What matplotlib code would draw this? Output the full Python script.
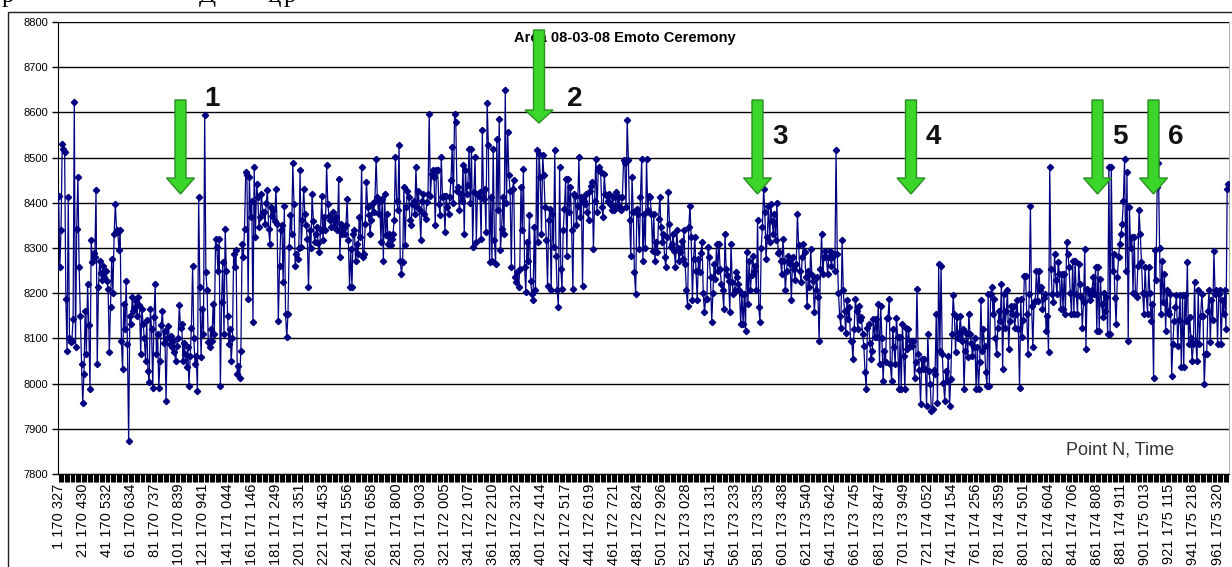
import numpy as np
import matplotlib
matplotlib.use('Agg')
import matplotlib.pyplot as plt
from matplotlib.patches import Polygon, Rectangle

plt.rcParams['font.family'] = ['Liberation Sans', 'DejaVu Sans']

# readings, point by point (values)
seg_a = [8416, 8257, 8339, 8531, 8520, 8512, 8187, 8073, 8413, 8100,
         8091, 8095, 8143, 8623, 8080, 8342, 8457, 8257, 8150, 8043,
         7958, 8021, 8161, 8065, 8220, 8130, 7988, 8317, 8269, 8290,
         8280, 8428, 8043, 8213, 8272, 8245, 8230, 8261, 8235, 8250,
         8228, 8210, 8069, 8169, 8276, 8200, 8332, 8398, 8340, 8335,
         8295, 8340, 8095, 8032, 8176, 8120, 8228, 8088, 7873, 8150,
         8132, 8191, 8160, 8169, 8183, 8150, 8191, 8175, 8065, 8165,
         8132, 8100, 8050, 8140, 8028, 8003, 8165, 8120, 7991, 8147,
         8220, 8065, 8110, 7991, 8050, 8130, 8161, 8090, 8117, 7962,
         8100, 8128, 8088, 8105, 8080, 8095, 8070, 8050, 8084, 8100,
         8173, 8124, 8132, 8050, 8090, 8065, 8036, 8080, 7995, 8060,
         8124, 8261, 8100, 8043, 8060, 7984, 8413, 8213, 8058, 8165,
         8110, 8594, 8246, 8206, 8091, 8080, 8120, 8095, 8176, 8110,
         8320, 8302, 8250, 8320, 7995, 8180, 8269, 8110, 8342, 8250,
         8150, 8088, 8120, 8050, 8100, 8287, 8257, 8295, 8021, 8040,
         8013, 8073, 8309, 8280, 8342, 8468, 8461, 8187, 8457, 8368,
         8405, 8136, 8479, 8324, 8442, 8413, 8346, 8368, 8420, 8380,
         8379, 8354, 8400, 8428, 8342, 8309, 8390, 8370, 8385, 8360,
         8431, 8354, 8139, 8261, 8339, 8350, 8224, 8394, 8154, 8102,
         8154, 8302, 8372, 8330, 8487, 8398, 8261, 8287, 8276, 8300,
         8472, 8302, 8361, 8431, 8376, 8350, 8320, 8213, 8339, 8300,
         8420, 8360, 8313, 8330, 8346, 8310, 8291, 8340, 8416, 8317,
         8368, 8340, 8483, 8398, 8370, 8361, 8346, 8380, 8346, 8360,
         8368, 8340, 8453, 8280, 8354, 8330, 8345, 8331, 8350, 8409,
         8317, 8213]

seg_b = [8298, 8213, 8331, 8339, 8272, 8309, 8287, 8368, 8324, 8479,
         8280, 8287, 8353, 8446, 8390, 8372, 8331, 8361, 8398, 8380,
         8405, 8498, 8413, 8376, 8405, 8313, 8409, 8272, 8420, 8328,
         8376, 8309, 8331, 8306, 8320, 8331, 8361, 8501, 8405, 8383,
         8527, 8272, 8243, 8269, 8435, 8306, 8390, 8427, 8413, 8361,
         8350, 8398, 8405, 8376, 8479, 8390, 8427, 8383, 8317, 8405,
         8420, 8376, 8365, 8402, 8420, 8597, 8416, 8464, 8472, 8457,
         8350, 8472, 8472, 8398, 8372, 8501, 8413, 8416, 8335, 8416,
         8390, 8376, 8413, 8450, 8523, 8400, 8597, 8579, 8427, 8435,
         8383, 8420, 8405, 8483, 8331, 8472, 8420, 8440, 8520, 8400,
         8520, 8302, 8424, 8501, 8313, 8420, 8416, 8424, 8320, 8560,
         8409, 8431, 8335, 8620, 8527, 8268, 8413, 8272, 8520, 8317,
         8265, 8542, 8383, 8586, 8295, 8342, 8413, 8331, 8649, 8400,
         8557, 8461, 8427, 8257, 8431, 8450, 8235, 8224, 8246, 8213,
         8253, 8435, 8339, 8475, 8257, 8202, 8313, 8272, 8372, 8228,
         8198, 8184, 8346, 8206, 8516, 8313, 8509, 8457, 8331, 8505,
         8461, 8390, 8317, 8217, 8361, 8387, 8206, 8376, 8302, 8516,
         8283, 8206, 8169, 8479, 8254, 8209, 8339, 8387, 8453, 8283,
         8453, 8379, 8435, 8339, 8209, 8420, 8416, 8350, 8394, 8501,
         8368, 8413, 8217, 8405, 8398, 8420, 8380, 8361, 8427, 8438,
         8446, 8298, 8405, 8498, 8379, 8472, 8479, 8468, 8390, 8369,
         8464, 8420, 8416, 8405, 8420, 8398, 8383, 8413, 8383, 8390,
         8424, 8398, 8413, 8390, 8383, 8413, 8494, 8487, 8390, 8583,
         8494, 8361, 8283, 8457, 8379, 8246, 8198, 8387, 8376, 8298,
         8413, 8498, 8272, 8376, 8300]

seg_c = [8498, 8383, 8416, 8413, 8376, 8294, 8376, 8272, 8313, 8291,
         8365, 8413, 8346, 8313, 8331, 8280, 8257, 8324, 8424, 8354,
         8302, 8309, 8330, 8294, 8257, 8339, 8300, 8272, 8291, 8316,
         8276, 8339, 8265, 8206, 8172, 8346, 8394, 8324, 8184, 8276,
         8324, 8250, 8184, 8276, 8246, 8290, 8313, 8200, 8158, 8188,
         8187, 8302, 8280, 8235, 8136, 8200, 8265, 8232, 8309, 8250,
         8309, 8254, 8220, 8206, 8165, 8331, 8254, 8240, 8228, 8158,
         8309, 8224, 8198, 8206, 8246, 8235, 8220, 8206, 8132, 8198,
         8132, 8198, 8117, 8291, 8176, 8272, 8206, 8240, 8283, 8250,
         8261, 8206, 8361, 8169, 8136, 8300, 8346, 8431, 8380, 8276,
         8324, 8394, 8313, 8398, 8360, 8331, 8376, 8317, 8400, 8290,
         8291, 8272, 8243, 8320, 8272, 8206, 8250, 8283, 8272, 8265,
         8184, 8280, 8254, 8230, 8265, 8376, 8306, 8250, 8224, 8280,
         8309, 8291, 8235, 8172, 8250, 8213, 8298, 8240, 8228, 8158,
         8206, 8235, 8191, 8095, 8254, 8331, 8243, 8280, 8294, 8280,
         8243, 8280, 8294, 8260, 8280, 8287, 8250, 8516, 8287, 8200,
         8150, 8124, 8317, 8206, 8160, 8113, 8184, 8143, 8169, 8095,
         8095, 8054, 8120, 8187, 8161, 8121, 8172, 8140, 8147, 8110,
         8084, 8025, 7988, 8124, 8132, 8090, 8054, 8073, 8143, 8102,
         8143, 8102, 8176, 8043, 8172, 8100, 8006, 8073, 8047, 8146,
         8146, 8187, 8043, 8006, 8121, 8080, 8043, 8146, 8102, 7988,
         8102, 7988, 8132, 8060, 7988, 8124, 8076, 8121, 8084, 8095,
         8084, 8095, 8013, 8047, 8209, 8065, 8030, 7955, 8054, 8032,
         8054, 8032, 7951, 8110, 8028, 8000, 7940, 7944, 8030, 8021,
         8154, 7958, 8265, 8073]

seg_d = [8261, 8065, 8002, 7962, 8028, 8006, 8062, 7951, 8010, 8110,
         8195, 8154, 8069, 8147, 8100, 8113, 8150, 8095, 8120, 7988,
         8073, 8113, 8058, 8154, 8110, 8090, 8062, 8080, 8100, 7988,
         8080, 7988, 8047, 8184, 8073, 8120, 8084, 8025, 7995, 8198,
         7995, 8198, 8213, 8154, 8187, 8100, 8065, 8124, 8160, 8139,
         8220, 8032, 8198, 8124, 8160, 8206, 8076, 8139, 8172, 8154,
         8172, 8124, 8154, 8184, 8120, 7991, 8187, 8102, 8140, 8239,
         8239, 8154, 8065, 8198, 8394, 8172, 8080, 8180, 8183, 8250,
         8183, 8250, 8206, 8213, 8165, 8190, 8198, 8117, 8150, 8069,
         8479, 8254, 8198, 8180, 8287, 8230, 8198, 8269, 8243, 8165,
         8243, 8165, 8243, 8154, 8313, 8287, 8258, 8200, 8154, 8272,
         8154, 8272, 8198, 8154, 8265, 8220, 8191, 8124, 8180, 8298,
         8076, 8209, 8202, 8184, 8195, 8206, 8235, 8198, 8258, 8117,
         8258, 8117, 8232, 8176, 8147, 8200, 8161, 8191, 8110, 8479,
         8110, 8479, 8250, 8287, 8190, 8132, 8235, 8280, 8309, 8330,
         8354, 8405, 8498, 8250, 8468, 8095, 8391, 8300, 8325, 8200,
         8324, 8198, 8191, 8261, 8383, 8331, 8269, 8200, 8154, 8257,
         8198, 8154, 8257, 8200, 8139, 8176, 8013, 8295, 8230, 8435,
         8487, 8300, 8154, 8272, 8180, 8243, 8117, 8206, 8160, 8154,
         8199, 8017, 8088, 8139, 8170, 8195, 8084, 8140, 8195, 8036,
         8195, 8036, 8195, 8139, 8269, 8088, 8147, 8100, 8050, 8088,
         8224, 8091, 8050, 8206, 8088, 8150, 8198, 8150, 7999, 8065,
         8065, 8161, 8206, 8091, 8184, 8140, 8294, 8198, 8206, 8088,
         8198, 8206, 8088, 8184, 8154, 8206, 8120, 8431, 8442]

tick_labels = ['1 170 327', '21 170 430', '41 170 532', '61 170 634', '81 170 737',
               '101 170 839', '121 170 941', '141 171 044', '161 171 146', '181 171 249',
               '201 171 351', '221 171 453', '241 171 556', '261 171 658', '281 171 800',
               '301 171 903', '321 172 005', '341 172 107', '361 172 210', '381 172 312',
               '401 172 414', '421 172 517', '441 172 619', '461 172 721', '481 172 824',
               '501 172 926', '521 173 028', '541 173 131', '561 173 233', '581 173 335',
               '601 173 438', '621 173 540', '641 173 642', '661 173 745', '681 173 847',
               '701 173 949', '721 174 052', '741 174 154', '761 174 256', '781 174 359',
               '801 174 501', '821 174 604', '841 174 706', '861 174 808', '881 174 911',
               '901 175 013', '921 175 115', '941 175 218', '961 175 320']

# green arrows (pixel positions on the picture) and their numbers
arrow_x = [180.5, 539, 757.5, 911, 1097.5, 1153.5]
arrow_top = [100, 30, 100, 100, 100, 100]
arrow_neck = [178, 110, 178, 178, 178, 178]
arrow_tip = [194, 123, 194, 194, 194, 194]
marks = ['1', '2', '3', '4', '5', '6']
mark_x = [212, 575, 780, 933, 1119.5, 1175.5]
mark_y = [99, 99, 137, 137, 137, 137]

W, H = 1232, 567
fig = plt.figure(figsize=(W / 100, H / 100), dpi=100)
ax = fig.add_axes([58 / W, (H - 474) / H, (1229 - 58) / W, (474 - 22) / H])

vals = seg_a + seg_b + seg_c + seg_d
x = np.arange(1, len(vals) + 1)
ax.plot(x, vals, color='#000080', lw=0.9, marker='D', ms=3.2,
        mfc='#000080', mec='#000080', zorder=3)

ax.set_xlim(0.5, len(vals) + 0.5)
ax.set_ylim(7800, 8800)
ax.set_yticks(range(7800, 8801, 100))
ax.yaxis.grid(True, color='black', lw=1.0)
ax.set_axisbelow(True)
ax.tick_params(axis='y', length=4, width=1, pad=3, labelsize=8)

label_pos = [int(s.split()[0]) for s in tick_labels]
ax.set_xticks(label_pos)
ax.set_xticklabels(tick_labels, rotation=90, fontsize=10.5)
ax.set_xticks(x, minor=True)
ax.tick_params(axis='x', which='both', length=6, width=0.8, direction='out', pad=1)

ax.spines['top'].set_visible(False)
ax.spines['right'].set_color('#b0b0b0')
ax.spines['left'].set_color('black')
ax.spines['bottom'].set_color('black')

def fx(px):
    return px / W

def fy(py):
    return 1 - py / H

# chart frame
fig.add_artist(Rectangle((fx(8), -0.05), 1.2, fy(12) + 0.05, transform=fig.transFigure,
                         fill=False, ec='#202020', lw=1))

ax.text(fx(625), fy(38), 'Area 08-03-08 Emoto Ceremony', transform=fig.transFigure,
        ha='center', va='center', fontsize=10.5, fontweight='bold', zorder=4)
fig.text(fx(1120), fy(450), 'Point N, Time', ha='center', va='center',
         fontsize=13, color='#333333')

for xc, t, n, tip in zip(arrow_x, arrow_top, arrow_neck, arrow_tip):
    pts = [(xc - 5.5, t), (xc + 5.5, t), (xc + 5.5, n), (xc + 14, n),
           (xc, tip), (xc - 14, n), (xc - 5.5, n)]
    fig.add_artist(Polygon([(fx(a), fy(b)) for a, b in pts], closed=True,
                           transform=fig.transFigure, fc='#3ad62a', ec='#2b8f22',
                           lw=1, zorder=10))

for m, mx, my in zip(marks, mark_x, mark_y):
    fig.text(fx(mx), fy(my), m, ha='center', va='center', fontsize=20,
             fontweight='bold', color='#111111')

# cut-off line of text above the chart (only its lower edge shows)
for ch, px in [('р', 2), ('Д', 199), ('ц', 268), ('р', 284)]:
    fig.text(fx(px), fy(2), ch, family='Liberation Serif', fontsize=18,
             va='baseline', ha='left')

fig.savefig('out.png', dpi=100)
